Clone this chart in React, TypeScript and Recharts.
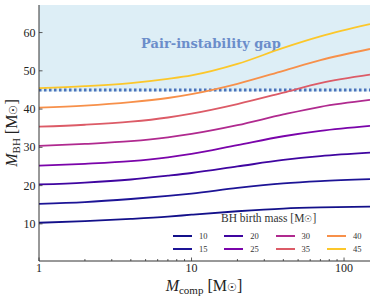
import { LineChart, Line, XAxis, YAxis, ReferenceArea, ReferenceLine, Label } from 'recharts';

// companion mass grid (log axis) and BH mass curves per birth mass
const compMass = [1, 2, 4, 7, 10, 20, 40, 70, 148];
const bh10 = [10.3, 10.7, 11.3, 11.9, 12.4, 13.3, 14.0, 14.3, 14.5];
const bh15 = [15.25, 15.7, 16.5, 17.3, 17.9, 19.4, 20.6, 21.2, 21.7];
const bh20 = [20.3, 20.8, 21.6, 22.6, 23.3, 25.0, 26.7, 27.7, 28.6];
const bh25 = [25.2, 25.7, 26.4, 27.4, 28.3, 30.6, 32.9, 34.3, 35.6];
const bh30 = [30.4, 30.9, 31.6, 32.6, 33.5, 35.8, 38.6, 40.6, 42.4];
const bh35 = [35.4, 35.9, 36.7, 37.8, 38.8, 41.3, 44.3, 46.8, 49.0];
const bh40 = [40.4, 40.9, 41.8, 42.9, 43.9, 46.6, 50.0, 52.8, 55.7];
const bh45 = [45.5, 46.0, 46.8, 47.9, 48.8, 51.8, 56.0, 59.0, 62.2];

const birthMasses = ['10', '15', '20', '25', '30', '35', '40', '45'];
const seriesValues = [bh10, bh15, bh20, bh25, bh30, bh35, bh40, bh45];
const colors = ['#13108a', '#1d1496', '#3f05a0', '#7a04aa', '#b02a8f', '#dc5b67', '#f7904a', '#fcc72a'];

const xTicks = [1, 2, 3, 4, 5, 6, 7, 8, 9, 10, 20, 30, 40, 50, 60, 70, 80, 90, 100];
const xMajor = [1, 10, 100];
const yTicks = [10, 20, 30, 40, 50, 60];
const gapFloor = 45;

const data = compMass.map((m, i) => {
  const row: Record<string, number> = { m };
  birthMasses.forEach((b, j) => {
    row['m' + b] = seriesValues[j][i];
  });
  return row;
});

const FRAME = '#333';
const SERIF = '"Liberation Serif", "DejaVu Serif", serif';

const BottomTick = (props: any) => {
  const { x, y, payload } = props;
  const major = xMajor.includes(payload.value);
  return (
    <g>
      <line x1={x} x2={x} y1={y} y2={y - (major ? 3.5 : 2)} stroke={FRAME} strokeWidth={0.8} />
      {major && (
        <text x={x} y={y + 11} textAnchor="middle" fontSize={12} fontFamily={SERIF} fill="#222">
          {payload.value}
        </text>
      )}
    </g>
  );
};

const TopTick = (props: any) => {
  const { x, y, payload } = props;
  const major = xMajor.includes(payload.value);
  return <line x1={x} x2={x} y1={y} y2={y + (major ? 3.5 : 2)} stroke={FRAME} strokeWidth={0.8} />;
};

const LeftTick = (props: any) => {
  const { x, y, payload } = props;
  return (
    <g>
      <line x1={x} x2={x + 3.5} y1={y} y2={y} stroke={FRAME} strokeWidth={0.8} />
      <text x={x - 3.5} y={y + 4} textAnchor="end" fontSize={12} fontFamily={SERIF} fill="#222">
        {payload.value}
      </text>
    </g>
  );
};

const RightTick = (props: any) => {
  const { x, y } = props;
  return <line x1={x} x2={x - 3.5} y1={y} y2={y} stroke={FRAME} strokeWidth={0.8} />;
};

const GapLabel = (props: any) => {
  const { viewBox } = props;
  return (
    <text
      x={viewBox.x + 172}
      y={viewBox.y + 43}
      textAnchor="middle"
      fontSize={13}
      fontWeight="bold"
      fontFamily='"DejaVu Serif", serif'
      fill="#6b8dca"
    >
      Pair-instability gap
    </text>
  );
};

const BirthLegend = () => (
  <div
    style={{
      position: 'absolute',
      left: 173,
      top: 212,
      width: 200,
      height: 40,
      fontFamily: SERIF,
      color: '#333',
    }}
  >
    <div style={{ position: 'absolute', left: 48, top: 0, fontSize: 11.5, whiteSpace: 'nowrap' }}>
      BH birth mass [M<span style={{ fontSize: 9 }}>☉</span>]
    </div>
    {birthMasses.map((b, i) => {
      const col = Math.floor(i / 2);
      const row = i % 2;
      return (
        <div key={b} style={{ position: 'absolute', left: col * 51.3, top: 19 + row * 12.5, height: 10 }}>
          <div style={{ position: 'absolute', left: 0, top: 4, width: 19, height: 2, background: colors[i] }} />
          <div style={{ position: 'absolute', left: 26, top: -1, fontSize: 8.5, lineHeight: '12px' }}>{b}</div>
        </div>
      );
    })}
  </div>
);

export default function App() {
  return (
    <div style={{ position: 'absolute', left: 0, top: 0, width: 374, height: 301, background: '#fff' }}>
      <LineChart width={374} height={301} data={data} margin={{ top: 5, right: 4, bottom: 0, left: 0 }}>
        <XAxis
          dataKey="m"
          type="number"
          scale="log"
          domain={[1, 148]}
          allowDataOverflow
          ticks={xTicks}
          interval={0}
          tickSize={0}
          tickMargin={0}
          tickLine={false}
          tick={<BottomTick />}
          height={40}
          axisLine={{ stroke: FRAME }}
        >
          <Label
            content={() => (
              <text x={204} y={291} textAnchor="middle" fontFamily={SERIF} fontSize={16} fill="#222">
                <tspan fontStyle="italic">M</tspan>
                <tspan fontSize={11} dy={3}>comp</tspan>
                <tspan dy={-3}> [M</tspan>
                <tspan fontSize={11}>☉</tspan>
                <tspan>]</tspan>
              </text>
            )}
          />
        </XAxis>
        <XAxis
          xAxisId="top"
          orientation="top"
          dataKey="m"
          type="number"
          scale="log"
          domain={[1, 148]}
          allowDataOverflow
          ticks={xTicks}
          interval={0}
          tickSize={0}
          tickMargin={0}
          tickLine={false}
          tick={<TopTick />}
          height={0}
          axisLine={{ stroke: FRAME }}
        />
        <YAxis
          type="number"
          domain={[0.3, 67.2]}
          allowDataOverflow
          ticks={yTicks}
          interval={0}
          tickSize={0}
          tickMargin={0}
          tickLine={false}
          tick={<LeftTick />}
          width={39}
          axisLine={{ stroke: FRAME }}
        >
          <Label
            content={() => (
              <text
                x={17}
                y={133}
                transform="rotate(-90 17 133)"
                textAnchor="middle"
                fontFamily={SERIF}
                fontSize={16}
                fill="#222"
              >
                <tspan fontStyle="italic">M</tspan>
                <tspan fontSize={11} dy={3}>BH</tspan>
                <tspan dy={-3}> [M</tspan>
                <tspan fontSize={11}>☉</tspan>
                <tspan>]</tspan>
              </text>
            )}
          />
        </YAxis>
        <YAxis
          yAxisId="right"
          orientation="right"
          type="number"
          domain={[0.3, 67.2]}
          allowDataOverflow
          ticks={yTicks}
          interval={0}
          tickSize={0}
          tickMargin={0}
          tickLine={false}
          tick={<RightTick />}
          width={0}
          axisLine={{ stroke: FRAME }}
        />
        <ReferenceArea y1={44.6} y2={67.2} fill="#ddeef6" fillOpacity={1} stroke="none" label={<GapLabel />} />
        <ReferenceLine y={gapFloor} stroke="#4a73bb" strokeWidth={3} strokeDasharray="2.5 2.5" />
        {birthMasses.map((b, i) => (
          <Line
            key={b}
            type="monotone"
            dataKey={'m' + b}
            stroke={colors[i]}
            strokeWidth={1.8}
            dot={false}
            isAnimationActive={false}
          />
        ))}
      </LineChart>
      <BirthLegend />
    </div>
  );
}
